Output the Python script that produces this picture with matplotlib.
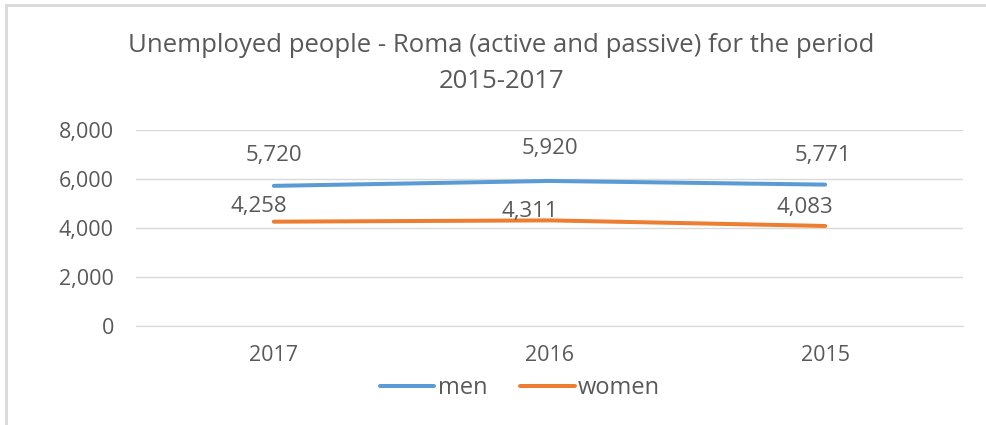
import matplotlib.pyplot as plt
from matplotlib.lines import Line2D

years = ["2017", "2016", "2015"]
men = [5720, 5920, 5771]
women = [4258, 4311, 4083]
y_ticks = [0, 2000, 4000, 6000, 8000]

# label offsets in pixels (dx, dy), as placed in the original
men_offsets = [(0, 30), (0, 32), (-2, 29)]
women_offsets = [(-15, 15), (-20, 9), (-20, 18)]

BLUE = "#5B9BD5"
ORANGE = "#ED7D31"
TEXT = "#595959"
GRID = "#D9D9D9"
PT = 0.72  # points per pixel at dpi 100

plt.rcParams["font.family"] = ["Open Sans", "DejaVu Sans"]

fig = plt.figure(figsize=(9.87, 4.25), dpi=100)
ax = fig.add_axes([136 / 987, 1 - 326 / 425, 827 / 987, 196 / 425])

x = range(len(years))
ax.plot(x, men, color=BLUE, lw=4 * PT, solid_capstyle="round")
ax.plot(x, women, color=ORANGE, lw=4 * PT, solid_capstyle="round")

for xi, v, (dx, dy) in zip(x, men, men_offsets):
    ax.annotate(f"{v:,}", (xi, v), xytext=(dx * PT, dy * PT),
                textcoords="offset points", ha="center", va="center",
                fontsize=16, color=TEXT)
for xi, v, (dx, dy) in zip(x, women, women_offsets):
    ax.annotate(f"{v:,}", (xi, v), xytext=(dx * PT, dy * PT),
                textcoords="offset points", ha="center", va="center",
                fontsize=16, color=TEXT)

ax.set_xlim(-0.5, len(years) - 0.5)
ax.set_ylim(0, 8000)
ax.set_xticks(list(x))
ax.set_xticklabels(years)
ax.set_yticks(y_ticks)
ax.set_yticklabels([f"{t:,}" for t in y_ticks])
ax.tick_params(length=0, labelsize=15.5, colors=TEXT)
ax.tick_params(axis="x", pad=14)
ax.tick_params(axis="y", pad=16)
ax.grid(axis="y", color=GRID, lw=1)
for s in ["top", "right", "left"]:
    ax.spines[s].set_visible(False)
ax.spines["bottom"].set_color(GRID)
ax.set_axisbelow(True)

fig.text(0.508, 1 - 46 / 425, "Unemployed people - Roma (active and passive) for the period",
         ha="center", va="center", fontsize=18.5, color=TEXT)
fig.text(0.508, 1 - 81 / 425, "2015-2017", ha="center", va="center",
         fontsize=18.5, color=TEXT)

handles = [Line2D([], [], color=BLUE, lw=4 * PT, solid_capstyle="round"),
           Line2D([], [], color=ORANGE, lw=4 * PT, solid_capstyle="round")]
leg = fig.legend(handles, ["men", "women"], loc="center",
                 bbox_to_anchor=(520 / 987, 1 - 388 / 425), ncol=2, frameon=False,
                 fontsize=17, handlelength=2.3, handletextpad=0.15,
                 columnspacing=1.4, labelcolor=TEXT)

# chart frame (top and left edges visible)
fig.add_artist(Line2D([6 / 987, 6 / 987], [0, 1 - 5 / 425], color=GRID, lw=2))
fig.add_artist(Line2D([6 / 987, 1], [1 - 5 / 425, 1 - 5 / 425], color=GRID, lw=2))

fig.savefig("out.png", dpi=100)
